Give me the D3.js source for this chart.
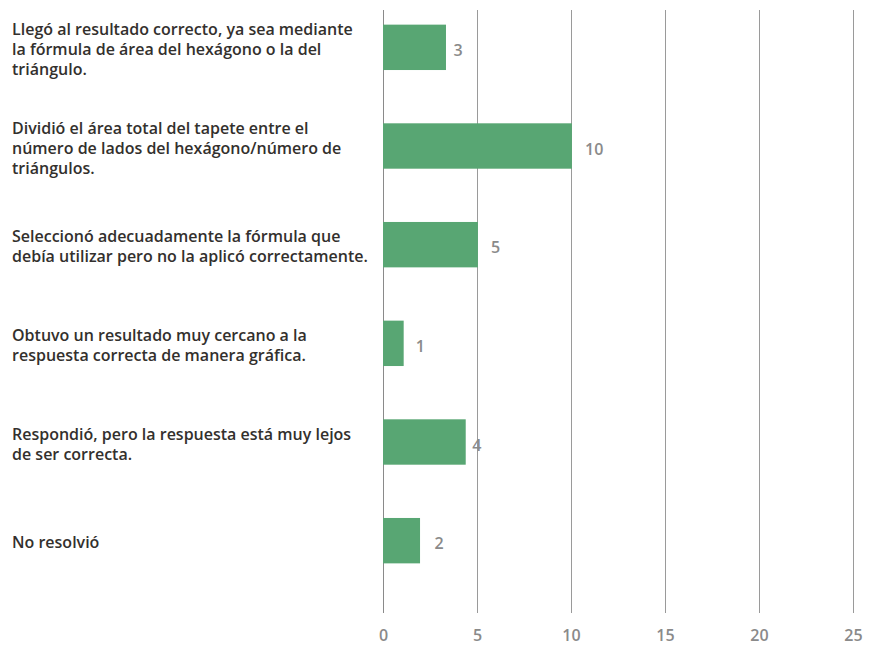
<!DOCTYPE html>
<html>
<head>
<meta charset="utf-8">
<script src="https://cdn.jsdelivr.net/npm/d3@7"></script>
<style>
  body { margin: 0; background: #fff; }
  #chart { width: 872px; height: 646px; }
</style>
</head>
<body>
<div id="chart"></div>
<script>
// categories (line breaks as in the picture)
const categories = [
  "Llegó al resultado correcto, ya sea mediante\nla fórmula de área del hexágono o la del\ntriángulo.",
  "Dividió el área total del tapete entre el\nnúmero de lados del hexágono/número de\ntriángulos.",
  "Seleccionó adecuadamente la fórmula que\ndebía utilizar pero no la aplicó correctamente.",
  "Obtuvo un resultado muy cercano a la\nrespuesta correcta de manera gráfica.",
  "Respondió, pero la respuesta está muy lejos\nde ser correcta.",
  "No resolvió"
];
// bar lengths as drawn, and the numbers printed next to them
const barValues = [3.35, 10.05, 5.05, 1.1, 4.4, 1.97];
const labelValues = [3, 10, 5, 1, 4, 2];
const xTicks = [0, 5, 10, 15, 20, 25];

const width = 872, height = 646;
const svg = d3.select("#chart").append("svg")
  .attr("width", width)
  .attr("height", height);

let xScale = d3.scaleLinear().domain([0, 25]).range([383, 853]);

let yScale = d3.scaleBand()
  .domain(d3.range(categories.length))
  .range([-2, 590])
  .paddingInner(0.54)
  .paddingOuter(0.27);

// vertical grid lines
svg.append("g")
  .selectAll("line")
  .data(xTicks)
  .enter()
  .append("line")
  .attr("x1", d => Math.round(xScale(d)) + 0.5)
  .attr("x2", d => Math.round(xScale(d)) + 0.5)
  .attr("y1", 10)
  .attr("y2", 613)
  .attr("stroke", d => d == 0 ? "#8a8a8a" : "#9a9a9a")
  .attr("stroke-width", 1);

// bars
svg.append("g")
  .selectAll("rect")
  .data(barValues)
  .enter()
  .append("rect")
  .attr("x", xScale(0))
  .attr("y", (d, i) => yScale(i))
  .attr("width", d => xScale(d) - xScale(0))
  .attr("height", yScale.bandwidth())
  .attr("fill", "#58a673");

// value labels
svg.append("g")
  .selectAll("text")
  .data(labelValues)
  .enter()
  .append("text")
  .attr("x", d => xScale(d) + 14)
  .attr("y", (d, i) => yScale(i) + yScale.bandwidth() / 2 + 3)
  .attr("dy", "0.35em")
  .attr("fill", "#8a8a8a")
  .style("font-family", "'Open Sans', sans-serif")
  .style("font-weight", "600")
  .style("font-size", "16px")
  .text(d => d);

// category labels
let cats = svg.append("g")
  .selectAll("text")
  .data(categories)
  .enter()
  .append("text")
  .attr("fill", "#33302d")
  .style("font-family", "'Open Sans', sans-serif")
  .style("font-weight", "600")
  .style("font-size", "16px");

cats.each(function (d, i) {
  let lines = d.split("\n");
  let lineH = 20;
  let cy = yScale(i) + yScale.bandwidth() / 2 + 2;
  let y0 = cy - (lines.length - 1) * lineH / 2;
  d3.select(this).selectAll("tspan")
    .data(lines)
    .enter()
    .append("tspan")
    .attr("x", 12)
    .attr("y", (l, j) => y0 + j * lineH)
    .attr("dy", "0.35em")
    .text(l => l);
});

// x axis
let xAxis = d3.axisBottom(xScale).tickValues(xTicks).tickSize(0).tickPadding(0);
let gx = svg.append("g")
  .attr("transform", "translate(0, 630)")
  .call(xAxis);
gx.select(".domain").remove();
gx.selectAll("text")
  .attr("fill", "#8a8a8a")
  .style("font-family", "'Open Sans', sans-serif")
  .style("font-weight", "600")
  .style("font-size", "16px");
</script>
</body>
</html>
